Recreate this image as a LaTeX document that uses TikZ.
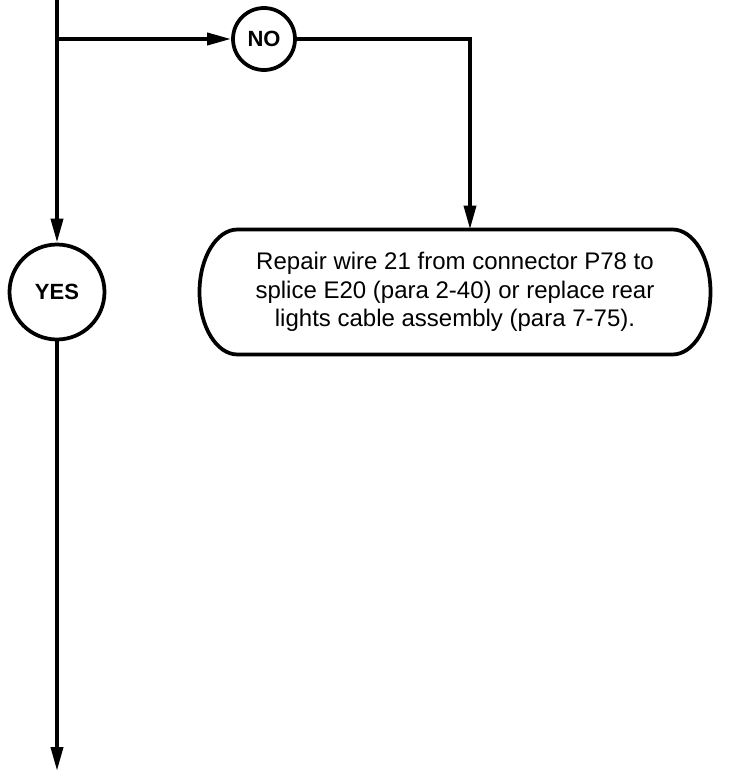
\documentclass[tikz,border=0pt]{standalone}
\usepackage{fontspec}
\setmainfont{Liberation Sans}
\usetikzlibrary{arrows.meta,positioning}

\begin{document}
\begin{tikzpicture}[x=1pt,y=-1pt,line width=3.75pt,
  flow/.style={-{Triangle[length=24pt,width=12pt]}},
  answer/.style={circle,draw,inner sep=0pt,font=\bfseries\fontsize{22}{26}\selectfont},
  action/.style={rectangle,align=center,outer sep=0pt,
    minimum width=511pt,minimum height=125pt,font=\fontsize{24}{28.5}\selectfont}]
\useasboundingbox (0,0) rectangle (740,771);
% answers and action
\node[answer,minimum size=62pt] (no) at (264,39) {NO};
\node[answer,minimum size=95pt] (yes) at (57,292) {YES};
\node[action] (repair) at (455,292) {Repair wire 21 from connector P78 to\\splice E20 (para 2-40) or replace rear\\lights cable assembly (para 7-75).};
\draw ([xshift=38pt]repair.north west) -- ([xshift=-38pt]repair.north east)
  arc[start angle=90,end angle=-90,x radius=38pt,y radius=62.5pt]
  -- ([xshift=38pt]repair.south west)
  arc[start angle=270,end angle=90,x radius=38pt,y radius=62.5pt] -- cycle;
\coordinate (top) at (57,0);
\coordinate (split) at (57,39);
\coordinate (turn) at (470,39);
\coordinate (bottom) at (57,771);
% connectors
\draw[flow] (top) -- (yes);
\draw[flow] (split) -- (no);
\draw[flow] (no) -- (turn) -- (turn |- repair.north);
\draw[flow] (yes) -- (bottom);
\end{tikzpicture}
\end{document}
